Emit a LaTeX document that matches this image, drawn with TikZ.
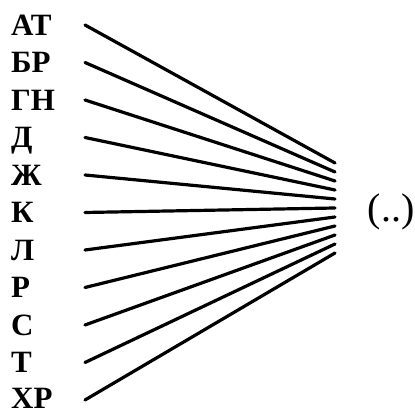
\documentclass[tikz,border=0pt]{standalone}
\usepackage{fontspec}
\setmainfont{Liberation Serif}
\begin{document}
\begin{tikzpicture}[x=1pt,y=1pt,
  lbl/.style={font=\fontsize{31}{31}\selectfont\bfseries, anchor=base west, inner sep=0pt},
  ray/.style={line width=3.2pt, line cap=round}]
\useasboundingbox (0,0) rectangle (415,414);
\foreach \t [count=\i] in {АТ,БР,ГН,Д,Ж,К,Л,Р,С,Т}{
  \pgfmathsetmacro{\ys}{414-(25+37.5*(\i-1))}
  \pgfmathsetmacro{\ye}{414-(163+9*(\i-1))}
  \node[lbl] (l\i) at (11,\ys-10.5) {\t};
  \coordinate (s\i) at (85,\ys);
  \coordinate (e\i) at (335,\ye);
  \draw[ray] (s\i) -- (e\i);
}
\node[lbl] (l11) at (11,5) {ХР};
\coordinate (s11) at (85,14);
\coordinate (e11) at (335,414-253);
\draw[ray] (s11) -- (e11);
\node[font=\fontsize{40}{40}\selectfont, anchor=center, inner sep=0pt] (res) at (391,414-212) {(..)};
\end{tikzpicture}
\end{document}
